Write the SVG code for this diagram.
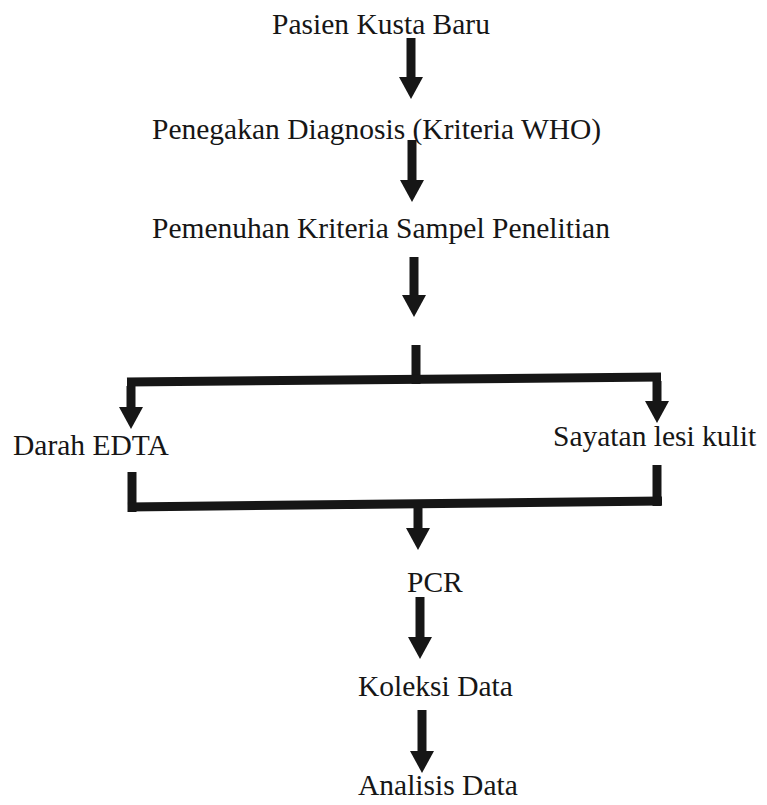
<svg xmlns="http://www.w3.org/2000/svg" width="767" height="805" viewBox="0 0 767 805">
<style>
  .lbl { font-family: "Liberation Serif", "Times New Roman", serif; font-size: 29.5px; fill: #161616; }
  .ln { stroke: #161616; stroke-width: 9; fill: none; stroke-linecap: butt; }
  .ar { stroke: #161616; stroke-width: 9; fill: none; marker-end: url(#ah); }
</style>
<defs>
  <marker id="ah" viewBox="0 0 22 24" refX="0" refY="12" markerWidth="22" markerHeight="24" markerUnits="userSpaceOnUse" orient="auto">
    <path d="M0,0 L22,12 L0,24 Z" fill="#161616"/>
  </marker>
</defs>
<rect width="767" height="805" fill="#ffffff"/>
<g id="connectors">
  <line class="ar" x1="411" y1="38" x2="411" y2="77"/>
  <line class="ar" x1="412" y1="140" x2="412" y2="180"/>
  <line class="ar" x1="414" y1="257" x2="414" y2="295"/>
  <line class="ln" x1="416" y1="345" x2="416" y2="384"/>
  <line class="ln" x1="127" y1="382" x2="661" y2="377"/>
  <line class="ar" x1="131" y1="386" x2="131" y2="407"/>
  <line class="ar" x1="657" y1="381" x2="657" y2="401"/>
  <line class="ln" x1="132" y1="472" x2="132" y2="512"/>
  <line class="ln" x1="657" y1="465" x2="657" y2="506"/>
  <line class="ln" x1="128" y1="507" x2="662" y2="501"/>
  <line class="ar" x1="418" y1="506" x2="418" y2="528"/>
  <line class="ar" x1="420" y1="597" x2="420" y2="637"/>
  <line class="ar" x1="422" y1="710" x2="422" y2="751"/>
</g>
<g id="node-pasien"><text class="lbl" x="272" y="34">Pasien Kusta Baru</text></g>
<g id="node-diagnosis"><text class="lbl" x="152" y="139">Penegakan Diagnosis (Kriteria WHO)</text></g>
<g id="node-kriteria"><text class="lbl" x="152" y="238">Pemenuhan Kriteria Sampel Penelitian</text></g>
<g id="node-darah"><text class="lbl" x="13" y="455">Darah EDTA</text></g>
<g id="node-sayatan"><text class="lbl" x="553" y="446">Sayatan lesi kulit</text></g>
<g id="node-pcr"><text class="lbl" x="407" y="592">PCR</text></g>
<g id="node-koleksi"><text class="lbl" x="358" y="696">Koleksi Data</text></g>
<g id="node-analisis"><text class="lbl" x="358" y="795">Analisis Data</text></g>
</svg>
